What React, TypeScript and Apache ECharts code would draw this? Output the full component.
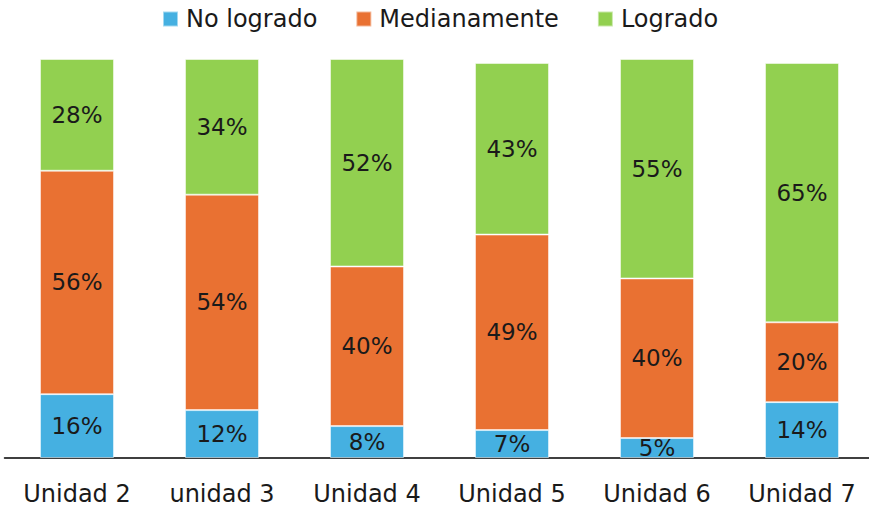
import React, { useEffect, useRef } from "react";
import * as echarts from "echarts";

const categories = ["Unidad 2", "unidad 3", "Unidad 4", "Unidad 5", "Unidad 6", "Unidad 7"];
const noLogrado = [16, 12, 8, 7, 5, 14];
const medianamente = [56, 54, 40, 49, 40, 20];
const logrado = [28, 34, 52, 43, 55, 65];

const seriesNames = ["No logrado", "Medianamente", "Logrado"];
const seriesColors = ["#45B0E1", "#E97132", "#92D050"];
const seriesData = [noLogrado, medianamente, logrado];

const FONT = "DejaVu Sans";

export default function App() {
  const ref = useRef<HTMLDivElement>(null);
  useEffect(() => {
    if (!ref.current) return;
    const chart = echarts.init(ref.current, null, { renderer: "svg" });
    chart.setOption({
      animation: false,
      backgroundColor: "#ffffff",
      legend: {
        top: 2,
        left: 157,
        itemWidth: 15,
        itemHeight: 15,
        itemGap: 38,
        icon: "rect",
        textStyle: { fontFamily: FONT, fontSize: 24, color: "#1a1a1a", padding: [0, 0, 0, 3] },
        data: seriesNames,
      },
      grid: { left: 4.5, top: 59, width: 870, height: 399 },
      xAxis: {
        type: "category",
        data: categories,
        axisLine: { lineStyle: { color: "#000", width: 1.5 } },
        axisTick: { show: false },
        axisLabel: { fontFamily: FONT, fontSize: 24, color: "#1a1a1a", margin: 24 },
      },
      yAxis: { type: "value", min: 0, max: 100, show: false, splitLine: { show: false } },
      series: seriesData.map((d, i) => ({
        name: seriesNames[i],
        type: "bar",
        stack: "total",
        data: d,
        barWidth: 74,
        itemStyle: { color: seriesColors[i], borderColor: "rgba(255,255,255,0.5)", borderWidth: 1 },
        label: {
          show: true,
          position: "inside",
          formatter: "{c}%",
          fontFamily: FONT,
          fontSize: 23,
          color: "#1a1a1a",
        },
      })),
    });
    return () => chart.dispose();
  }, []);
  return (
    <div style={{ position: "fixed", left: 0, top: 0, width: 869, height: 510, overflow: "hidden" }}>
      <div ref={ref} style={{ width: 880, height: 510 }} />
    </div>
  );
}
